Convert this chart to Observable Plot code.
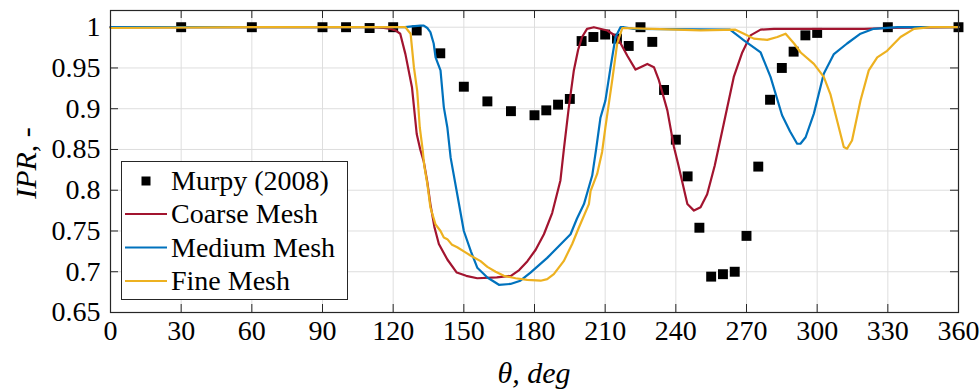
<!DOCTYPE html>
<html>
<head>
<meta charset="utf-8">
<script src="https://cdn.jsdelivr.net/npm/d3@7"></script>
<script src="https://cdn.jsdelivr.net/npm/@observablehq/plot@0.6"></script>
<style>
  html, body { margin: 0; padding: 0; background: #fff; }
  #chart { width: 980px; height: 392px; }
</style>
</head>
<body>
<div id="chart"></div>
<script>
// Experimental points (Murpy, 2008)
const murpyTheta = [30, 60, 90, 100, 110, 120, 130, 140, 150, 160, 170, 180, 185, 190, 195,
  200, 205, 210, 215, 220, 225, 230, 235, 240, 245, 250, 255, 260, 265, 270, 275,
  280, 285, 290, 295, 300, 330, 360];
const murpyIPR = [1.0, 1.0, 1.0, 1.0, 0.999, 1.0, 0.996, 0.968, 0.927, 0.909, 0.897, 0.892, 0.898, 0.905, 0.912,
  0.983, 0.988, 0.991, 0.986, 0.977, 1.0, 0.982, 0.923, 0.862, 0.817, 0.754, 0.694, 0.697, 0.700, 0.744, 0.829,
  0.911, 0.950, 0.970, 0.990, 0.993, 1.0, 1.0];

// Coarse mesh
const coarseTheta = [0, 60, 110, 116, 119, 121, 123, 125.2, 128, 130, 131.5, 133, 134.5, 135.8, 137.5, 139.4,
  143, 147, 151, 155.7, 164, 170, 173.5, 177, 180.5, 184, 187.5, 191, 192.5, 194.5, 196.7, 198.5, 200.2,
  202.3, 205.2, 210.9, 215.1, 219.4, 222.9, 225, 227.9, 230.7, 232.8, 236.4, 239.2, 241, 244.9, 247.7,
  250.5, 253.3, 256.5, 260.3, 264.6, 268.2, 271.7, 276, 281.7, 300, 320, 330, 360];
const coarseIPR = [1.0, 1.0, 1.0, 0.999, 0.998, 0.996, 0.992, 0.967, 0.926, 0.869, 0.85, 0.835, 0.81, 0.783, 0.755, 0.734,
  0.715, 0.699, 0.695, 0.692, 0.693, 0.695, 0.702, 0.713, 0.727, 0.746, 0.772, 0.812, 0.851, 0.9, 0.947, 0.972, 0.988,
  0.998, 1.0, 0.996, 0.988, 0.965, 0.948, 0.951, 0.955, 0.951, 0.935, 0.898, 0.853, 0.832, 0.783, 0.775,
  0.779, 0.795, 0.83, 0.881, 0.939, 0.969, 0.990, 0.997, 0.998, 0.998, 0.998, 0.999, 1.0];

// Medium mesh
const mediumTheta = [0, 100, 125, 128, 131.6, 133, 134.5, 135.8, 137.2, 138, 140.1, 141.5, 143, 144.4, 147.2,
  150, 153, 155.7, 160, 164.9, 169.8, 174, 178.3, 185.4, 195.3, 198, 201, 204.5, 206.2, 208, 210.1, 212.3,
  214.4, 216.5, 218, 222, 263, 268.9, 276, 280.2, 285.1, 288.5, 291.5, 292.9, 295.1, 298.6, 302.8, 307.1,
  312.7, 318.4, 324, 334, 360];
const mediumIPR = [1.0, 1.0, 1.0, 1.001, 1.002, 1.002, 0.999, 0.994, 0.98, 0.963, 0.947, 0.902, 0.877, 0.84, 0.795,
  0.75, 0.725, 0.705, 0.693, 0.684, 0.685, 0.689, 0.699, 0.717, 0.746, 0.765, 0.783, 0.818, 0.851, 0.889, 0.91, 0.951,
  0.988, 1.0, 1.0, 0.998, 0.997, 0.984, 0.969, 0.939, 0.892, 0.872, 0.857, 0.857, 0.865, 0.894, 0.943, 0.967,
  0.98, 0.992, 0.998, 1.0, 1.0];

// Fine mesh
const fineTheta = [0, 60, 120, 125.2, 127.4, 128.8, 130.2, 131.3, 132.5, 133.2, 134.5, 135.8, 138, 140.1, 141.5,
  143, 145, 147.2, 150, 152.8, 157.1, 160, 163.5, 167, 172, 176.9, 182.6, 185.4, 188.2, 192.4, 196, 198.8,
  203.1, 203.8, 206.6, 208.7, 210.1, 213, 215.1, 217.3, 230, 250.5, 265.3, 268.9, 273.1, 278.8, 283.1, 286.6,
  290.2, 293, 298.6, 302.8, 305.6, 308.5, 311.3, 312.7, 314.8, 318.4, 321.9, 325.5, 329.7, 335.4, 341.1, 348, 360];
const fineIPR = [0.999, 1.0, 1.0, 1.0, 0.992, 0.951, 0.922, 0.877, 0.85, 0.83, 0.808, 0.779, 0.758, 0.75, 0.742,
  0.74, 0.733, 0.73, 0.725, 0.72, 0.713, 0.706, 0.70, 0.695, 0.692, 0.69, 0.689, 0.691, 0.697, 0.713, 0.734, 0.754,
  0.783, 0.799, 0.82, 0.847, 0.877, 0.935, 0.98, 0.999, 0.998, 0.996, 0.997, 0.992, 0.986, 0.9845, 0.988, 0.992,
  0.98, 0.969, 0.955, 0.939, 0.918, 0.885, 0.853, 0.851, 0.861, 0.91, 0.947, 0.963, 0.971, 0.988, 0.998, 1.0, 1.0];

// Axis ticks and legend entries
const xTicks = [0, 30, 60, 90, 120, 150, 180, 210, 240, 270, 300, 330, 360];
const yTicks = [0.65, 0.7, 0.75, 0.8, 0.85, 0.9, 0.95, 1];
const seriesNames = ["Murpy (2008)", "Coarse Mesh", "Medium Mesh", "Fine Mesh"];
const seriesColors = ["#000000", "#A2142F", "#0072BD", "#EDB120"];

const zip = (xs, ys) => xs.map((x, i) => ({theta: x, ipr: ys[i]}));
const murpy = zip(murpyTheta, murpyIPR);
const coarse = zip(coarseTheta, coarseIPR);
const medium = zip(mediumTheta, mediumIPR);
const fine = zip(fineTheta, fineIPR);

const W = 980, H = 392;
const mL = 110, mR = 22, mT = 10, mB = 80;
const innerW = W - mL - mR, innerH = H - mT - mB;
const axisColor = "#262626";
const gridColor = "#dedede";
const serif = "Liberation Serif, Times New Roman, serif";

const chart = Plot.plot({
  width: W,
  height: H,
  marginLeft: mL,
  marginRight: mR,
  marginTop: mT,
  marginBottom: mB,
  style: {fontFamily: serif, fontSize: "28px", color: axisColor, background: "#fff"},
  x: {domain: [0, 360]},
  y: {domain: [0.65, 1.0205]},
  marks: [
    Plot.gridX(xTicks, {stroke: gridColor, strokeOpacity: 1}),
    Plot.gridY(yTicks, {stroke: gridColor, strokeOpacity: 1}),
    // inward tick marks on all four sides of the box
    Plot.tickX(xTicks, {x: d => d, insetTop: innerH - 8, stroke: axisColor}),
    Plot.tickX(xTicks, {x: d => d, insetBottom: innerH - 8, stroke: axisColor}),
    Plot.tickY(yTicks, {y: d => d, insetRight: innerW - 8, stroke: axisColor}),
    Plot.tickY(yTicks, {y: d => d, insetLeft: innerW - 8, stroke: axisColor}),
    Plot.dot(murpy, {x: "theta", y: "ipr", symbol: "square", r: 5.6, fill: seriesColors[0], stroke: "none"}),
    Plot.line(coarse, {x: "theta", y: "ipr", stroke: seriesColors[1], strokeWidth: 2.2}),
    Plot.line(medium, {x: "theta", y: "ipr", stroke: seriesColors[2], strokeWidth: 2.2}),
    Plot.line(fine, {x: "theta", y: "ipr", stroke: seriesColors[3], strokeWidth: 2.2}),
    Plot.axisX(xTicks, {tickSize: 0, tickPadding: 8, label: null, fontSize: 28, fill: "#000"}),
    Plot.axisY(yTicks, {tickSize: 0, tickPadding: 10, label: null, fontSize: 28, fill: "#000",
      tickFormat: d => String(d)}),
    Plot.frame({stroke: axisColor, strokeWidth: 1.2})
  ]
});

document.getElementById("chart").appendChild(chart);

const svg = d3.select(chart);

// y-axis title: italic IPR, upright ", -"
const yTitle = svg.append("text")
  .attr("transform", `translate(36, ${mT + innerH / 2 + 2}) rotate(-90)`)
  .attr("text-anchor", "middle")
  .attr("font-family", serif)
  .attr("font-size", 30)
  .attr("fill", "#000");
yTitle.append("tspan").attr("font-style", "italic").text("IPR");
yTitle.append("tspan").text(", -");

// x-axis title
svg.append("text")
  .attr("x", mL + innerW / 2)
  .attr("y", 383)
  .attr("text-anchor", "middle")
  .attr("font-family", serif)
  .attr("font-size", 30)
  .attr("font-style", "italic")
  .attr("fill", "#000")
  .text("θ, deg");

// legend box
const lg = svg.append("g")
  .attr("font-family", serif)
  .attr("font-size", 28)
  .attr("text-anchor", "start");
lg.append("rect")
  .attr("x", 121.5).attr("y", 161.5)
  .attr("width", 226).attr("height", 138)
  .attr("fill", "#fff").attr("stroke", axisColor).attr("stroke-width", 1);
const rowY = [181, 214, 247.5, 281];
seriesNames.forEach((name, i) => {
  const y = rowY[i];
  if (i === 0) {
    lg.append("rect").attr("x", 141.5).attr("y", y - 4.5).attr("width", 9).attr("height", 9)
      .attr("fill", seriesColors[i]);
  } else {
    lg.append("line").attr("x1", 125).attr("x2", 167).attr("y1", y).attr("y2", y)
      .attr("stroke", seriesColors[i]).attr("stroke-width", 2.2);
  }
  lg.append("text").attr("x", 171).attr("y", y).attr("dy", "0.33em")
    .attr("text-anchor", "start")
    .attr("fill", "#000").text(name);
});
</script>
</body>
</html>
